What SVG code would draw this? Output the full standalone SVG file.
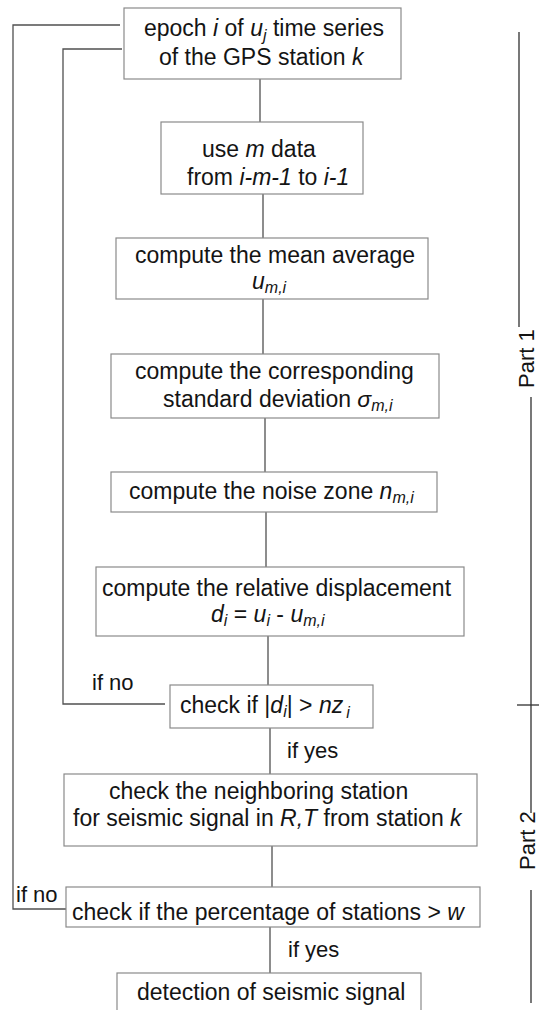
<svg xmlns="http://www.w3.org/2000/svg" width="539" height="1010" viewBox="0 0 539 1010">
<style>
text{font-family:"Liberation Sans",Arial,sans-serif;font-size:23px;fill:#141414}
.i{font-style:italic}
.s{font-size:16px;font-style:italic}
.box{fill:#fff;stroke:#8a8a8a;stroke-width:1.2}
.ln{fill:none;stroke:#505050;stroke-width:1.3}
.br{fill:none;stroke:#303030;stroke-width:1.3}
.lbl{font-size:22px}
</style>
<rect width="539" height="1010" fill="#fff"/>
<g id="connectors">
<line class="ln" x1="260" y1="79" x2="260" y2="122"/>
<line class="ln" x1="263" y1="194" x2="263" y2="238"/>
<line class="ln" x1="263" y1="299" x2="263" y2="354"/>
<line class="ln" x1="265" y1="418" x2="265" y2="472"/>
<line class="ln" x1="266" y1="512" x2="266" y2="567"/>
<line class="ln" x1="268" y1="636" x2="268" y2="685"/>
<line class="ln" x1="270" y1="728" x2="270" y2="774"/>
<line class="ln" x1="272" y1="846" x2="272" y2="887"/>
<line class="ln" x1="270" y1="927" x2="270" y2="973"/>
<polyline class="ln" points="165,704 63,704 63,49 122,49"/>
<polyline class="ln" points="66,909 13,909 13,25 120,25"/>
<text class="lbl" x="92" y="690">if no</text>
<text class="lbl" x="287" y="758">if yes</text>
<text class="lbl" x="16" y="902">if no</text>
<text class="lbl" x="288" y="957">if yes</text>
</g>
<g id="brackets">
<line class="br" x1="519" y1="32" x2="519" y2="327"/>
<line class="br" x1="531" y1="397" x2="531" y2="813"/>
<line class="br" x1="531" y1="890" x2="531" y2="1003"/>
<line class="br" x1="517" y1="705" x2="539" y2="705"/>
<text class="lbl" transform="translate(534,388) rotate(-90)">Part 1</text>
<text class="lbl" transform="translate(535,870) rotate(-90)">Part 2</text>
</g>
<g id="n1">
<rect class="box" x="124" y="8" width="277" height="71"/>
<text x="144" y="36">epoch <tspan class="i">i</tspan> of <tspan class="i">u</tspan><tspan class="s" dy="5">j</tspan><tspan dy="-5"> time series</tspan></text>
<text x="159" y="65">of the GPS station <tspan class="i">k</tspan></text>
</g>
<g id="n2">
<rect class="box" x="161" y="122" width="202" height="72"/>
<text x="202" y="157">use <tspan class="i">m</tspan> data</text>
<text x="187" y="185">from <tspan class="i">i-m-1</tspan> to <tspan class="i">i-1</tspan></text>
</g>
<g id="n3">
<rect class="box" x="116" y="238" width="312" height="61"/>
<text x="135" y="263">compute the mean average</text>
<text x="252" y="289"><tspan class="i">u</tspan><tspan class="s" dy="4">m,i</tspan></text>
</g>
<g id="n4">
<rect class="box" x="111" y="354" width="328" height="64"/>
<text x="135" y="379">compute the corresponding</text>
<text x="163" y="407">standard deviation <tspan class="i">σ</tspan><tspan class="s" dy="4">m,i</tspan></text>
</g>
<g id="n5">
<rect class="box" x="111" y="472" width="326" height="40"/>
<text x="129" y="499">compute the noise zone <tspan class="i">n</tspan><tspan class="s" dy="4">m,i</tspan></text>
</g>
<g id="n6">
<rect class="box" x="96" y="567" width="368" height="69"/>
<text x="102" y="596">compute the relative displacement</text>
<text x="211" y="622"><tspan class="i">d</tspan><tspan class="s" dy="4">i</tspan><tspan dy="-4"> = </tspan><tspan class="i">u</tspan><tspan class="s" dy="4">i</tspan><tspan dy="-4"> - </tspan><tspan class="i">u</tspan><tspan class="s" dy="4">m,i</tspan></text>
</g>
<g id="n7">
<rect class="box" x="170" y="685" width="203" height="43"/>
<text x="180" y="713">check if  |<tspan class="i">d</tspan><tspan class="s" dy="4">i</tspan><tspan dy="-4">| &gt; </tspan><tspan class="i">nz</tspan><tspan class="s" dx="3" dy="5">i</tspan></text>
</g>
<g id="n8">
<rect class="box" x="64" y="774" width="413" height="72"/>
<text x="109" y="799">check the neighboring station</text>
<text x="73" y="826">for seismic signal in <tspan class="i">R,T</tspan> from station <tspan class="i">k</tspan></text>
</g>
<g id="n9">
<rect class="box" x="66" y="887" width="414" height="40"/>
<text x="72" y="920">check if the percentage of stations &gt; <tspan class="i">w</tspan></text>
</g>
<g id="n10">
<rect class="box" x="117" y="973" width="304" height="45"/>
<text x="137" y="1000">detection of seismic signal</text>
</g>
</svg>
